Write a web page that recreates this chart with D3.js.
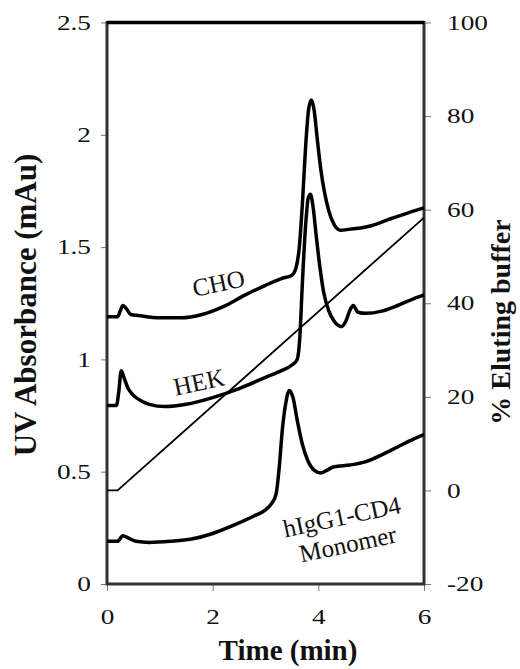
<!DOCTYPE html>
<html>
<head>
<meta charset="utf-8">
<script src="https://cdn.jsdelivr.net/npm/d3@7"></script>
<style>
body { margin: 0; background: #fff; }
text { font-family: "Liberation Serif", "Times New Roman", serif; fill: #111; }
</style>
</head>
<body>
<script>
// ---- data ----
const xTicks = [0, 2, 4, 6]
const leftTicks = [0, 0.5, 1, 1.5, 2, 2.5]
const rightTicks = [-20, 0, 20, 40, 60, 80, 100]

// [time (min), absorbance (mAu)]
const cho = [[0, 1.19], [0.2, 1.19], [0.25, 1.215], [0.3, 1.24], [0.37, 1.225], [0.45, 1.2], [0.6, 1.195],
    [1.0, 1.185], [1.4, 1.185], [1.8, 1.2], [2.2, 1.235], [2.6, 1.285], [3.0, 1.33], [3.3, 1.36], [3.5, 1.375],
    [3.58, 1.41], [3.64, 1.5], [3.7, 1.7], [3.76, 1.95], [3.82, 2.12], [3.87, 2.155], [3.92, 2.11], [3.98, 1.98],
    [4.05, 1.84], [4.12, 1.74], [4.2, 1.66], [4.3, 1.6], [4.42, 1.575], [4.6, 1.58], [4.8, 1.585], [5.0, 1.595],
    [5.3, 1.62], [5.6, 1.645], [6.0, 1.675]]

const hek = [[0, 0.795], [0.18, 0.795], [0.22, 0.85], [0.27, 0.95], [0.32, 0.92], [0.4, 0.87], [0.5, 0.84],
    [0.65, 0.815], [0.8, 0.8], [1.1, 0.79], [1.5, 0.8], [2.0, 0.83], [2.5, 0.87], [3.0, 0.92], [3.3, 0.95],
    [3.5, 0.975], [3.6, 1.0], [3.65, 1.1], [3.7, 1.35], [3.76, 1.6], [3.81, 1.72], [3.85, 1.735], [3.9, 1.68],
    [3.96, 1.55], [4.03, 1.41], [4.1, 1.3], [4.2, 1.215], [4.3, 1.17], [4.44, 1.146], [4.52, 1.17], [4.6, 1.22],
    [4.66, 1.24], [4.75, 1.21], [4.9, 1.205], [5.2, 1.215], [5.5, 1.24], [5.8, 1.27], [6.0, 1.287]]

const monomer = [[0, 0.19], [0.2, 0.19], [0.3, 0.215], [0.4, 0.205], [0.55, 0.19], [0.8, 0.185], [1.2, 0.19],
    [1.6, 0.2], [2.0, 0.225], [2.4, 0.262], [2.8, 0.305], [3.0, 0.33], [3.12, 0.36], [3.2, 0.4], [3.26, 0.52],
    [3.32, 0.69], [3.38, 0.8], [3.45, 0.862], [3.52, 0.83], [3.6, 0.73], [3.7, 0.62], [3.8, 0.55], [3.92, 0.507],
    [4.05, 0.494], [4.15, 0.505], [4.3, 0.522], [4.6, 0.53], [4.9, 0.545], [5.2, 0.575], [5.5, 0.61],
    [5.8, 0.645], [6.0, 0.665]]

// [time (min), % eluting buffer]
const gradient = [[0, 0], [0.2, 0], [6, 58.3]]

const labels = [
    {text: ['CHO'], t: 2.11, v: 1.34},
    {text: ['HEK'], t: 1.74, v: 0.9},
    {text: ['hIgG1-CD4', 'Monomer'], t: 4.5, v: 0.24}
]

const margin = {
        top: 22.5,
        right: 96,
        bottom: 85,
        left: 107
    },
    width = 520 - margin.left - margin.right,
    height = 669 - margin.top - margin.bottom

const svg = d3.select('body').append('svg')
    .attr('width', width + margin.left + margin.right)
    .attr('height', height + margin.top + margin.bottom)
    .append('g')
    .attr('transform', 'translate(' + margin.left + ',' + margin.top + ')')

const x = d3.scaleLinear().domain([0, 6]).range([0, width])
const y = d3.scaleLinear().domain([0, 2.5]).range([height, 0])
const y2 = d3.scaleLinear().domain([-20, 100]).range([height, 0])

// tick labels look horizontally stretched in the original
const stretch = 1.3

const xAxis = svg.append('g')
    .attr('transform', 'translate(0,' + height + ')')
    .call(d3.axisBottom(x).tickValues(xTicks).tickSize(7).tickFormat(d => d))
xAxis.selectAll('text')
    .attr('y', 0).attr('dy', 0)
    .attr('transform', 'translate(0,40) scale(' + stretch + ',1)')

const leftAxis = svg.append('g')
    .call(d3.axisLeft(y).tickValues(leftTicks).tickSize(6).tickFormat(d => d))
leftAxis.selectAll('text')
    .attr('x', 0)
    .attr('transform', 'translate(-16,0) scale(' + stretch + ',1)')

const rightAxis = svg.append('g')
    .attr('transform', 'translate(' + width + ',0)')
    .call(d3.axisRight(y2).tickValues(rightTicks).tickSize(7).tickFormat(d => d))
rightAxis.selectAll('text')
    .attr('x', 0)
    .attr('transform', 'translate(23,0) scale(' + stretch + ',1)')

svg.selectAll('.domain').remove()
svg.selectAll('.tick line').attr('stroke', '#777')
svg.selectAll('.tick text')
    .attr('font-size', 21)
    .attr('font-family', '"Liberation Serif", serif')
    .attr('fill', '#222')

// frame
svg.append('rect')
    .attr('width', width)
    .attr('height', height)
    .attr('fill', 'none')
    .attr('stroke', '#333')
    .attr('stroke-width', 3)
svg.append('line')
    .attr('x1', 0).attr('x2', width)
    .attr('stroke', '#000')
    .attr('stroke-width', 3.5)

// traces
const trace = d3.line()
    .x(d => x(d[0]))
    .y(d => y(d[1]))
    .curve(d3.curveMonotoneX)

svg.selectAll('.trace')
    .data([cho, hek, monomer])
    .enter().append('path')
    .attr('class', 'trace')
    .attr('d', trace)
    .attr('fill', 'none')
    .attr('stroke', '#000')
    .attr('stroke-width', 3.5)
    .attr('stroke-linejoin', 'round')

const ramp = d3.line()
    .x(d => x(d[0]))
    .y(d => y2(d[1]))

svg.append('path')
    .attr('d', ramp(gradient))
    .attr('fill', 'none')
    .attr('stroke', '#000')
    .attr('stroke-width', 1.8)

// trace labels
labels.forEach(l => {
    const g = svg.append('g')
        .attr('transform', 'translate(' + x(l.t) + ',' + y(l.v) + ') rotate(-12)')
    l.text.forEach((line, i) => {
        g.append('text')
            .attr('text-anchor', 'middle')
            .attr('y', (i - (l.text.length - 1) / 2) * 28)
            .attr('dy', '0.35em')
            .attr('font-size', 25)
            .text(line)
    })
})

// axis titles
svg.append('text')
    .attr('x', 181)
    .attr('y', height + 76)
    .attr('text-anchor', 'middle')
    .attr('font-size', 29)
    .attr('font-weight', 'bold')
    .text('Time (min)')

svg.append('text')
    .attr('transform', 'translate(' + (36 - margin.left) + ',' + (305 - margin.top) + ') rotate(-90)')
    .attr('text-anchor', 'middle')
    .attr('font-size', 31)
    .attr('font-weight', 'bold')
    .text('UV Absorbance (mAu)')

svg.append('text')
    .attr('transform', 'translate(' + (510 - margin.left) + ',' + (322 - margin.top) + ') rotate(-90)')
    .attr('text-anchor', 'middle')
    .attr('font-size', 28)
    .attr('font-weight', 'bold')
    .text('% Eluting buffer')
</script>
</body>
</html>
